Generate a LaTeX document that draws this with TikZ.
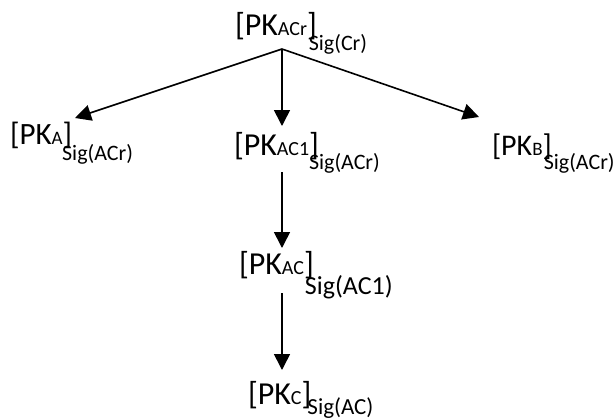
\documentclass[tikz,border=0pt]{standalone}
\usepackage{fontspec}
\setmainfont{Carlito}
\usetikzlibrary{arrows.meta}
% #1 main size, #2 small size, #3 Sig size, #4 kern, #5 drop, #6 sub text, #7 sig text
\newcommand{\pklabel}[7]{{\fontsize{#1}{#1}\selectfont[PK{\fontsize{#2}{#2}\selectfont #6}]}\kern#4\raisebox{-#5}{\fontsize{#3}{#3}\selectfont Sig(#7)}}
\begin{document}
\begin{tikzpicture}[x=1pt,y=-1pt,
  lbl/.style={anchor=base west, inner sep=0pt, outer sep=0pt},
  conn/.style={line width=1.6pt, -{Triangle[length=16pt,width=16pt]}}]
\useasboundingbox (0,0) rectangle (614,418);
\node[lbl] (top) at (235,35) {\pklabel{32}{20}{22}{-8pt}{15pt}{ACr}{Cr}};
\node[lbl] (pka) at (10,144) {\pklabel{31}{19}{22}{-10pt}{16pt}{A}{ACr}};
\node[lbl] (pkac1) at (234,155) {\pklabel{32}{20}{22}{-10pt}{14pt}{AC1}{ACr}};
\node[lbl] (pkb) at (492,155) {\pklabel{30}{19}{22}{-8pt}{14pt}{B}{ACr}};
\node[lbl] (pkac) at (239,274) {\pklabel{32}{20}{26}{-9pt}{20pt}{AC}{AC1}};
\node[lbl] (pkc) at (248,404) {\pklabel{32}{20}{23}{-4pt}{10pt}{C}{AC}};
\coordinate (apex) at (282,49);
\coordinate (ta) at (75,118);
\coordinate (tac1) at (282,126);
\coordinate (tb) at (479,117);
\coordinate (s1) at (282,172);
\coordinate (tac) at (282,248);
\coordinate (s2) at (282,293);
\coordinate (tc) at (282,370);
\draw[conn] (apex) -- (ta);
\draw[conn] (apex) -- (tac1);
\draw[conn] (apex) -- (tb);
\draw[conn] (s1) -- (tac);
\draw[conn] (s2) -- (tc);
\end{tikzpicture}
\end{document}
